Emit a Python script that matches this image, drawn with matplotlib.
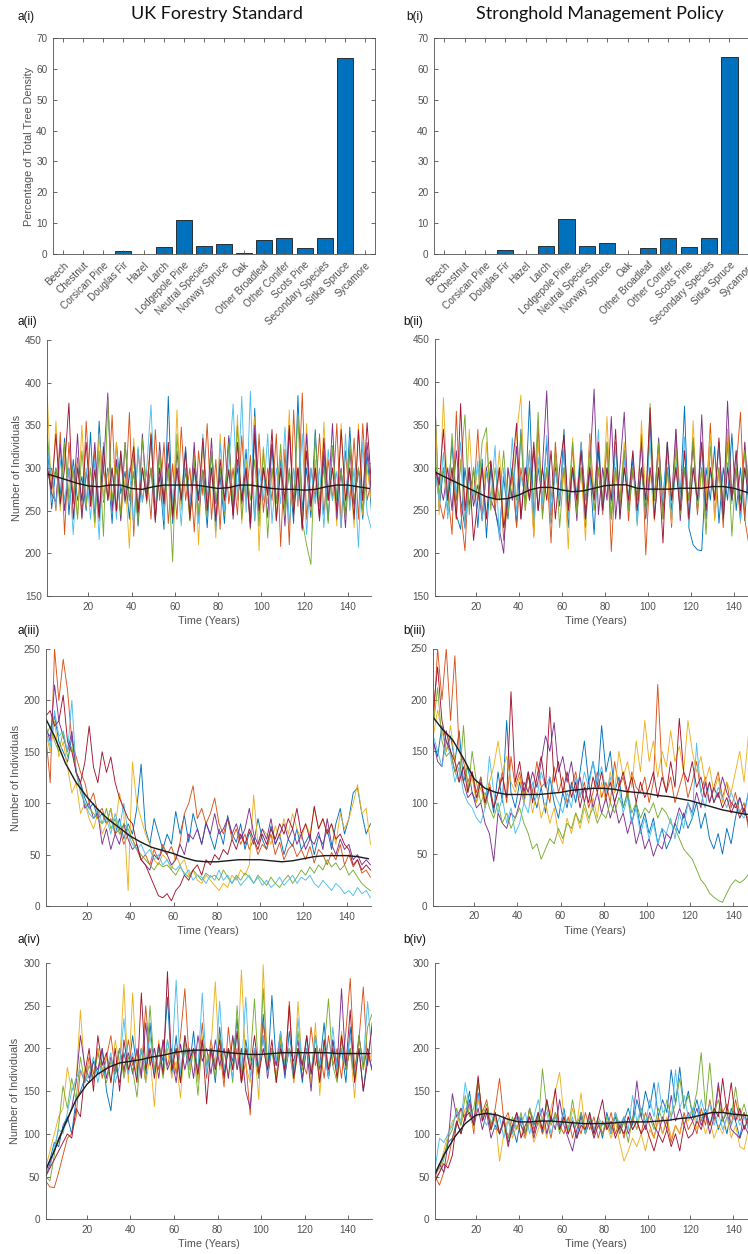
import matplotlib
matplotlib.use("Agg")
import matplotlib.pyplot as plt

plt.rcParams['font.family'] = ['Liberation Sans', 'DejaVu Sans']

# ---------------- data ----------------
species = ["Beech", "Chestnut", "Corsican Pine", "Douglas Fir", "Hazel", "Larch",
           "Lodgepole Pine", "Neutral Species", "Norway Spruce", "Oak",
           "Other Broadleaf", "Other Conifer", "Scots Pine", "Secondary Species",
           "Sitka Spruce", "Sycamore"]
ukfs_share = [0, 0, 0, 1.0, 0, 2.4, 11.0, 2.6, 3.3, 0.5, 4.5, 5.3, 1.9, 5.3, 63.5, 0]
shmp_share = [0, 0, 0, 1.5, 0, 2.8, 11.5, 2.6, 3.8, 0, 1.9, 5.3, 2.4, 5.3, 63.8, 0]

years = list(range(1, 152, 2))
mean_years = [1] + list(range(5, 151, 5))

# panel (ii)
a2_r1 = [330, 252, 300, 268, 335, 245, 310, 262, 290, 250,
         342, 238, 355, 260, 300, 235, 330, 270, 296, 240,
         318, 232, 300, 265, 338, 250, 290, 228, 384, 235,
         300, 262, 325, 245, 310, 268, 296, 230, 318, 258,
         290, 235, 335, 250, 300, 262, 322, 228, 370, 245,
         300, 270, 328, 240, 310, 255, 298, 235, 385, 250,
         300, 242, 345, 258, 310, 238, 326, 262, 298, 245,
         348, 255, 300, 240, 318, 250]
a2_r2 = [290, 300, 250, 342, 222, 330, 258, 312, 240, 355,
         262, 320, 238, 300, 265, 362, 248, 310, 260, 365,
         220, 322, 260, 298, 240, 345, 262, 330, 235, 305,
         240, 348, 262, 300, 225, 320, 268, 352, 240, 310,
         228, 336, 258, 300, 245, 338, 262, 315, 238, 340,
         248, 300, 262, 340, 208, 322, 210, 368, 255, 388,
         240, 300, 265, 340, 245, 310, 262, 352, 230, 320,
         258, 335, 240, 352, 262, 285]
a2_r3 = [385, 262, 355, 250, 320, 270, 300, 242, 350, 255,
         300, 230, 340, 262, 296, 252, 330, 240, 288, 206,
         335, 250, 300, 270, 342, 238, 312, 262, 298, 240,
         368, 250, 300, 238, 322, 210, 330, 262, 300, 218,
         340, 255, 298, 245, 362, 235, 310, 228, 360, 203,
         325, 258, 300, 240, 320, 262, 368, 245, 300, 226,
         352, 250, 310, 238, 354, 262, 300, 232, 352, 255,
         300, 230, 352, 245, 300, 262]
a2_r4 = [300, 270, 260, 328, 250, 300, 262, 340, 242, 295,
         268, 330, 250, 300, 388, 250, 310, 238, 330, 262,
         295, 240, 340, 268, 300, 236, 330, 262, 305, 240,
         320, 262, 296, 250, 330, 240, 298, 258, 335, 232,
         300, 262, 338, 240, 310, 258, 296, 230, 350, 262,
         300, 242, 328, 260, 298, 232, 345, 262, 300, 228,
         340, 255, 300, 238, 320, 262, 352, 240, 300, 230,
         322, 258, 300, 262, 330, 270]
a2_r5 = [340, 280, 300, 255, 330, 262, 298, 240, 320, 258,
         300, 236, 320, 220, 380, 262, 300, 245, 330, 262,
         296, 235, 335, 258, 300, 250, 320, 248, 300, 190,
         340, 258, 300, 238, 310, 250, 296, 242, 320, 262,
         300, 245, 330, 258, 350, 240, 300, 262, 310, 232,
         322, 218, 300, 258, 328, 245, 300, 255, 362, 238,
         210, 187, 338, 255, 300, 235, 325, 262, 298, 240,
         330, 262, 300, 250, 305, 305]
a2_r6 = [320, 290, 255, 310, 262, 300, 222, 305, 258, 300,
         240, 310, 216, 330, 262, 300, 240, 320, 258, 300,
         232, 325, 260, 300, 374, 250, 300, 238, 330, 262,
         298, 232, 320, 255, 300, 235, 340, 262, 300, 226,
         330, 250, 300, 375, 262, 384, 248, 390, 238, 300,
         262, 340, 235, 300, 258, 348, 232, 300, 262, 340,
         222, 300, 258, 300, 230, 322, 262, 296, 230, 340,
         250, 300, 207, 330, 248, 228]
a2_r7 = [300, 275, 340, 258, 300, 376, 240, 300, 262, 330,
         255, 298, 242, 325, 262, 300, 250, 320, 262, 290,
         325, 248, 300, 262, 340, 240, 300, 258, 330, 245,
         300, 262, 320, 240, 300, 262, 335, 250, 300, 238,
         310, 262, 298, 245, 330, 262, 300, 235, 340, 250,
         300, 268, 345, 238, 300, 262, 350, 245, 300, 230,
         320, 255, 300, 242, 335, 262, 300, 250, 345, 262,
         300, 240, 345, 262, 353, 280]
a2_mean = [293, 290, 286, 282, 279, 278, 280, 280, 276, 275, 278, 280, 280, 280, 280, 278,
           276, 277, 280, 280, 278, 276, 275, 275, 274, 275, 278, 280, 280, 278, 276]

b2_r1 = [385, 250, 300, 262, 330, 245, 228, 300, 255, 300,
         230, 310, 218, 300, 252, 222, 290, 240, 300, 232,
         345, 258, 378, 240, 300, 262, 330, 235, 310, 255,
         345, 230, 300, 262, 325, 248, 300, 222, 320, 258,
         300, 240, 330, 255, 300, 262, 310, 238, 300, 250,
         355, 240, 300, 262, 330, 250, 300, 262, 372, 230,
         210, 204, 203, 300, 262, 325, 235, 300, 262, 340,
         250, 300, 238, 320, 262, 300]
b2_r2 = [300, 262, 240, 272, 222, 366, 250, 203, 300, 262,
         345, 238, 300, 308, 250, 300, 215, 262, 290, 230,
         300, 262, 320, 220, 350, 245, 300, 212, 330, 262,
         300, 238, 326, 250, 300, 230, 340, 262, 296, 245,
         330, 202, 300, 250, 322, 238, 300, 262, 340, 198,
         300, 262, 320, 240, 298, 230, 345, 262, 300, 238,
         335, 245, 300, 262, 352, 240, 300, 230, 345, 262,
         300, 365, 240, 208, 300, 262]
b2_r3 = [385, 245, 382, 262, 300, 240, 310, 232, 345, 262,
         300, 240, 330, 258, 262, 320, 230, 300, 262, 340,
         385, 250, 300, 218, 330, 262, 300, 240, 310, 262,
         300, 205, 335, 262, 300, 215, 335, 250, 300, 262,
         360, 240, 300, 262, 330, 250, 300, 235, 355, 262,
         300, 238, 320, 262, 300, 235, 330, 262, 300, 232,
         355, 250, 300, 262, 340, 238, 300, 255, 345, 262,
         300, 235, 330, 262, 335, 260]
b2_r4 = [300, 285, 262, 300, 250, 320, 262, 230, 300, 255,
         280, 240, 300, 262, 250, 228, 200, 300, 262, 325,
         240, 300, 262, 320, 250, 300, 390, 245, 300, 262,
         320, 250, 300, 238, 330, 262, 300, 392, 245, 300,
         262, 360, 240, 300, 365, 250, 300, 262, 330, 240,
         300, 262, 335, 250, 300, 262, 345, 238, 300, 262,
         330, 250, 362, 240, 300, 262, 330, 245, 378, 262,
         300, 240, 330, 255, 300, 262]
b2_r5 = [320, 268, 300, 250, 340, 262, 300, 362, 245, 300,
         262, 330, 347, 250, 300, 262, 320, 245, 300, 262,
         340, 250, 300, 262, 365, 240, 300, 262, 320, 230,
         300, 262, 330, 245, 300, 262, 320, 250, 300, 262,
         330, 240, 300, 262, 320, 250, 300, 262, 300, 245,
         375, 262, 330, 240, 300, 262, 320, 245, 300, 262,
         335, 250, 300, 222, 325, 262, 300, 240, 330, 220,
         300, 262, 320, 245, 300, 262]
b2_r6 = [300, 262, 318, 240, 292, 270, 330, 228, 290, 265,
         308, 238, 296, 262, 326, 215, 300, 255, 335, 248,
         290, 268, 320, 236, 312, 258, 338, 246, 296, 262,
         322, 240, 300, 270, 330, 236, 292, 262, 345, 248,
         296, 258, 328, 240, 310, 266, 318, 232, 300, 260,
         332, 244, 296, 262, 320, 240, 306, 258, 336, 230,
         300, 258, 322, 246, 296, 262, 330, 240, 306, 258,
         320, 238, 300, 262, 296, 250]
b2_r7 = [300, 280, 345, 262, 300, 240, 375, 250, 300, 215,
         262, 300, 240, 308, 262, 300, 230, 262, 300, 352,
         240, 300, 262, 330, 250, 300, 262, 320, 240, 300,
         338, 250, 300, 262, 320, 240, 300, 262, 330, 250,
         300, 262, 345, 240, 300, 262, 320, 250, 300, 262,
         370, 240, 300, 212, 330, 262, 300, 250, 320, 240,
         300, 262, 330, 250, 300, 262, 335, 240, 300, 262,
         320, 250, 300, 262, 310, 262]
b2_mean = [295, 290, 284, 278, 272, 266, 263, 264, 268, 274, 277, 277, 274, 272, 273, 276,
           279, 280, 280, 276, 275, 275, 275, 276, 276, 276, 278, 278, 276, 272, 268]

# panel (iii)
a3_r1 = [170, 165, 185, 160, 150, 140, 165, 130, 120, 105,
         95, 100, 85, 90, 80, 95, 70, 85, 65, 80,
         70, 95, 138, 75, 60, 85, 70, 55, 70, 60,
         92, 70, 88, 62, 90, 75, 60, 82, 68, 55,
         75, 60, 88, 70, 62, 80, 55, 72, 60, 85,
         65, 55, 78, 60, 70, 50, 65, 58, 75, 55,
         62, 70, 50, 68, 60, 75, 55, 80, 95, 70,
         85, 110, 115, 90, 70, 80]
a3_r2 = [165, 120, 250, 200, 240, 210, 160, 145, 130, 120,
         100, 110, 90, 95, 80, 85, 70, 75, 60, 70,
         65, 55, 45, 50, 40, 55, 45, 60, 50, 58,
         45, 62, 90, 100, 117, 85, 95, 80, 90, 105,
         80, 70, 85, 65, 75, 60, 70, 55, 65, 50,
         60, 55, 70, 50, 62, 45, 55, 60, 48, 55,
         45, 58, 42, 55, 50, 40, 52, 45, 60, 40,
         50, 38, 45, 32, 35, 28]
a3_r3 = [168, 150, 180, 145, 160, 135, 110, 120, 90, 100,
         85, 75, 90, 70, 80, 95, 75, 110, 90, 15,
         140, 100, 85, 70, 60, 45, 40, 50, 45, 35,
         50, 40, 45, 30, 35, 25, 22, 30, 25, 20,
         15, 22, 18, 30, 25, 35, 30, 40, 108, 60,
         75, 70, 60, 78, 65, 85, 70, 90, 75, 65,
         80, 70, 95, 75, 85, 70, 80, 60, 90, 75,
         85, 100, 118, 90, 95, 60]
a3_r4 = [175, 160, 215, 180, 165, 150, 170, 130, 120, 95,
         100, 85, 90, 60, 75, 55, 70, 60, 80, 65,
         55, 60, 45, 40, 35, 50, 45, 55, 50, 40,
         45, 60, 50, 70, 65, 75, 60, 80, 70, 90,
         70, 75, 85, 70, 80, 65, 75, 95, 70, 60,
         75, 65, 85, 60, 70, 80, 65, 75, 60, 70,
         55, 65, 60, 72, 55, 85, 60, 50, 65, 55,
         60, 45, 50, 40, 45, 40]
a3_r5 = [165, 175, 160, 150, 170, 145, 155, 130, 110, 100,
         95, 90, 85, 80, 95, 75, 85, 70, 80, 75,
         65, 55, 50, 45, 40, 35, 42, 38, 40, 35,
         30, 38, 32, 28, 35, 30, 25, 32, 28, 30,
         25, 35, 28, 22, 30, 25, 32, 28, 22, 30,
         25, 20, 28, 22, 18, 25, 30, 22, 28, 35,
         30, 38, 32, 40, 35, 45, 38, 42, 35, 40,
         30, 35, 28, 22, 18, 15]
a3_r6 = [170, 155, 190, 165, 170, 150, 200, 130, 115, 100,
         90, 85, 95, 80, 85, 70, 90, 75, 100, 70,
         60, 55, 60, 50, 55, 45, 50, 40, 45, 38,
         35, 40, 30, 35, 25, 30, 28, 22, 30, 25,
         35, 25, 30, 22, 28, 20, 25, 30, 22, 28,
         20, 25, 18, 22, 28, 20, 25, 30, 22, 28,
         25, 30, 22, 18, 25, 20, 15, 22, 18, 12,
         15, 10, 18, 12, 15, 8]
a3_r7 = [185, 190, 175, 180, 205, 160, 150, 130, 120, 140,
         175, 135, 120, 150, 130, 145, 120, 105, 95, 85,
         80, 60, 45, 40, 30, 20, 10, 8, 12, 5,
         15, 20, 30, 25, 35, 40, 30, 45, 40, 50,
         45, 55, 50, 65, 55, 70, 60, 75, 65, 55,
         70, 60, 75, 65, 80, 70, 85, 75, 95, 70,
         80, 65, 97, 75, 85, 70, 80, 65, 70, 60,
         55, 40, 45, 35, 40, 35]
a3_mean = [182, 165, 139, 120, 106, 94, 84, 76, 68, 62, 57, 54, 51, 47, 44, 43,
           43, 44, 45, 45, 45, 44, 43, 44, 46, 48, 49, 49, 49, 48, 46]

b3_r1 = [160, 145, 175, 150, 165, 140, 170, 120, 135, 110,
         100, 125, 95, 115, 90, 130, 100, 180, 110, 95,
         120, 100, 130, 110, 95, 115, 90, 125, 100, 85,
         110, 95, 120, 100, 130, 160, 120, 140, 115, 175,
         130, 150, 110, 125, 95, 110, 80, 100, 75, 90,
         70, 85, 60, 75, 55, 65, 80, 70, 90, 75,
         85, 100, 75, 90, 65, 55, 70, 50, 75, 60,
         85, 105, 90, 110, 95, 80]
b3_r2 = [175, 250, 200, 250, 180, 243, 150, 140, 120, 130,
         110, 125, 100, 120, 95, 110, 130, 100, 145, 115,
         130, 105, 125, 110, 140, 115, 120, 100, 135, 110,
         125, 100, 115, 130, 105, 120, 95, 110, 130, 105,
         120, 100, 140, 115, 125, 105, 130, 115, 110, 125,
         100, 120, 215, 130, 110, 125, 100, 115, 130, 105,
         120, 140, 110, 125, 100, 115, 130, 105, 120, 95,
         110, 90, 100, 75, 48, 70]
b3_r3 = [165, 190, 170, 150, 175, 140, 130, 120, 110, 125,
         100, 115, 95, 120, 135, 160, 130, 145, 120, 110,
         125, 100, 115, 90, 110, 85, 100, 80, 95, 70,
         60, 85, 70, 90, 75, 95, 80, 105, 85, 120,
         100, 130, 110, 150, 125, 140, 115, 160, 130, 180,
         140, 160, 125, 150, 135, 170, 140, 155, 130, 180,
         150, 130, 145, 120, 135, 110, 125, 100, 120, 110,
         130, 150, 120, 165, 130, 125]
b3_r4 = [160, 140, 135, 170, 150, 130, 140, 120, 105, 110,
         95, 100, 80, 70, 43, 90, 80, 75, 90, 85,
         100, 120, 110, 130, 115, 140, 165, 150, 178, 130,
         145, 120, 140, 110, 125, 100, 120, 95, 110, 90,
         105, 85, 100, 80, 90, 70, 85, 60, 75, 55,
         65, 48, 60, 55, 70, 65, 80, 95, 85, 100,
         90, 110, 95, 120, 100, 115, 105, 125, 110, 100,
         95, 105, 90, 85, 80, 75]
b3_r5 = [175, 212, 160, 145, 150, 130, 120, 175, 110, 150,
         120, 100, 110, 95, 85, 100, 80, 90, 75, 85,
         95, 80, 70, 55, 60, 45, 55, 65, 60, 75,
         65, 80, 75, 90, 80, 100, 85, 95, 80, 90,
         85, 100, 90, 105, 95, 110, 90, 100, 85, 95,
         90, 100, 85, 95, 90, 80, 75, 65, 55, 50,
         45, 35, 25, 20, 12, 8, 5, 3, 12, 20,
         25, 22, 25, 30, 38, 40]
b3_r6 = [165, 150, 135, 160, 145, 120, 135, 110, 100, 95,
         85, 80, 95, 145, 110, 90, 105, 80, 95, 70,
         80, 100, 90, 120, 105, 130, 115, 125, 110, 100,
         90, 110, 95, 125, 105, 130, 115, 140, 120, 135,
         110, 125, 100, 115, 90, 105, 80, 95, 70, 85,
         65, 80, 60, 75, 70, 85, 65, 90, 75, 100,
         85, 158, 110, 95, 120, 100, 115, 105, 95, 110,
         100, 90, 85, 110, 95, 85]
b3_r7 = [190, 232, 180, 160, 150, 140, 120, 135, 110, 130,
         105, 120, 100, 115, 95, 110, 125, 105, 208, 120,
         140, 110, 130, 100, 125, 145, 115, 193, 120, 140,
         110, 130, 105, 120, 95, 115, 100, 125, 110, 130,
         105, 120, 100, 115, 130, 110, 125, 100, 120, 105,
         115, 130, 105, 125, 110, 140, 115, 182, 130, 120,
         140, 115, 125, 105, 120, 100, 110, 95, 105, 90,
         100, 85, 95, 80, 75, 80]
b3_mean = [183, 172, 161, 143, 123, 114, 110, 108, 108, 108, 108, 109, 110, 112, 113, 114,
           114, 113, 111, 110, 109, 107, 106, 104, 102, 99, 96, 93, 91, 89, 88]

# panel (iv)
a4_r1 = [55, 70, 90, 85, 110, 120, 100, 140, 150, 165,
         160, 185, 170, 200, 150, 127, 180, 160, 195, 170,
         215, 175, 200, 160, 230, 170, 205, 185, 260, 170,
         215, 160, 200, 175, 220, 165, 210, 180, 200, 160,
         225, 170, 200, 185, 235, 160, 210, 175, 195, 165,
         240, 170, 262, 180, 205, 165, 220, 175, 200, 160,
         215, 170, 200, 180, 230, 165, 210, 175, 200, 160,
         225, 170, 200, 150, 195, 175]
a4_r2 = [45, 38, 37, 55, 75, 95, 100, 120, 175, 160,
         190, 170, 200, 165, 190, 215, 175, 200, 170, 210,
         180, 195, 170, 250, 185, 200, 175, 210, 180, 200,
         170, 215, 270, 185, 200, 175, 230, 165, 210, 180,
         200, 155, 225, 175, 200, 160, 185, 122, 200, 175,
         230, 180, 200, 165, 215, 175, 255, 160, 200, 185,
         170, 225, 180, 200, 165, 215, 180, 200, 165, 220,
         282, 175, 210, 272, 180, 230]
a4_r3 = [60, 80, 100, 120, 130, 178, 150, 160, 245, 170,
         185, 160, 200, 175, 190, 160, 210, 180, 275, 160,
         265, 170, 200, 160, 190, 132, 210, 170, 200, 165,
         185, 142, 210, 175, 200, 160, 215, 185, 200, 278,
         175, 200, 165, 215, 175, 292, 180, 160, 200, 140,
         298, 175, 200, 165, 210, 180, 200, 160, 255, 175,
         200, 160, 230, 145, 210, 180, 200, 165, 220, 175,
         200, 142, 215, 175, 200, 185]
a4_r4 = [50, 65, 80, 95, 105, 115, 130, 160, 215, 180,
         165, 185, 175, 200, 165, 190, 170, 200, 175, 195,
         170, 200, 165, 230, 180, 200, 165, 210, 175, 190,
         160, 205, 175, 200, 165, 215, 185, 200, 170, 210,
         180, 200, 165, 215, 175, 200, 150, 130, 200, 175,
         215, 165, 200, 180, 220, 170, 200, 185, 210, 165,
         200, 150, 215, 175, 200, 165, 210, 180, 270, 175,
         200, 165, 215, 180, 200, 175]
a4_r5 = [50, 45, 75, 110, 156, 130, 165, 140, 190, 160,
         180, 165, 195, 175, 160, 185, 170, 200, 165, 190,
         175, 143, 200, 170, 250, 175, 200, 165, 210, 180,
         200, 170, 215, 165, 200, 145, 210, 180, 200, 165,
         215, 175, 200, 160, 250, 170, 200, 185, 258, 165,
         270, 175, 200, 160, 215, 180, 200, 165, 220, 175,
         200, 170, 215, 165, 200, 258, 180, 160, 210, 175,
         200, 165, 215, 175, 225, 240]
a4_r6 = [55, 60, 85, 105, 100, 125, 150, 165, 175, 160,
         170, 190, 160, 185, 175, 195, 160, 180, 235, 170,
         195, 165, 200, 180, 215, 170, 200, 175, 210, 185,
         280, 170, 210, 180, 200, 175, 265, 170, 200, 180,
         255, 175, 200, 165, 220, 175, 260, 165, 200, 180,
         215, 170, 200, 185, 220, 175, 200, 165, 235, 180,
         200, 170, 215, 180, 200, 165, 225, 175, 200, 180,
         215, 170, 200, 185, 255, 190]
a4_r7 = [50, 60, 70, 80, 90, 100, 95, 130, 120, 170,
         200, 150, 215, 180, 195, 160, 200, 150, 210, 175,
         190, 160, 265, 175, 200, 165, 205, 170, 290, 175,
         200, 160, 215, 185, 200, 170, 210, 135, 200, 175,
         210, 165, 200, 175, 220, 160, 200, 175, 215, 170,
         200, 175, 210, 160, 200, 175, 250, 165, 200, 180,
         215, 170, 200, 160, 210, 175, 200, 165, 215, 180,
         245, 160, 200, 150, 185, 225]
a4_mean = [58, 80, 112, 140, 158, 170, 178, 183, 185, 187, 190, 192, 195, 197, 198, 198,
           197, 195, 194, 193, 193, 194, 195, 195, 195, 195, 195, 194, 194, 194, 194]

b4_r1 = [55, 60, 75, 90, 95, 115, 100, 120, 150, 110,
         148, 115, 130, 105, 120, 100, 115, 95, 110, 90,
         120, 100, 130, 110, 125, 100, 140, 115, 120, 105,
         130, 100, 115, 95, 125, 105, 120, 100, 115, 95,
         125, 105, 120, 100, 115, 130, 110, 140, 120, 150,
         130, 160, 120, 140, 125, 175, 135, 178, 130, 150,
         120, 140, 115, 130, 110, 125, 105, 120, 100, 130,
         115, 95, 125, 110, 130, 120]
b4_r2 = [50, 40, 55, 70, 95, 110, 130, 120, 135, 100,
         160, 125, 140, 110, 130, 165, 115, 125, 100, 120,
         110, 95, 130, 105, 120, 100, 115, 95, 125, 110,
         100, 120, 95, 115, 100, 125, 105, 120, 95, 115,
         105, 125, 100, 115, 95, 120, 105, 115, 100, 125,
         110, 95, 120, 100, 115, 90, 110, 100, 125, 105,
         115, 100, 130, 110, 140, 115, 155, 125, 135, 110,
         140, 115, 125, 105, 110, 115]
b4_r3 = [52, 60, 80, 100, 115, 120, 110, 130, 125, 105,
         140, 115, 130, 105, 120, 68, 100, 120, 95, 110,
         100, 95, 115, 90, 105, 120, 95, 130, 150, 172,
         120, 100, 130, 110, 148, 100, 115, 95, 120, 100,
         110, 95, 115, 90, 68, 80, 95, 85, 100, 80,
         105, 95, 115, 100, 120, 95, 110, 100, 120, 115,
         130, 105, 120, 100, 115, 95, 110, 100, 120, 95,
         110, 85, 82, 105, 120, 125]
b4_r4 = [50, 65, 55, 90, 147, 120, 130, 115, 140, 110,
         130, 105, 125, 95, 110, 100, 120, 90, 105, 125,
         110, 100, 120, 95, 115, 130, 100, 120, 105, 140,
         110, 95, 80, 105, 120, 100, 115, 95, 110, 100,
         115, 100, 125, 105, 120, 100, 115, 162, 120, 105,
         125, 110, 100, 120, 105, 145, 115, 130, 110, 125,
         115, 130, 110, 125, 100, 120, 160, 115, 125, 105,
         100, 95, 110, 100, 120, 115]
b4_r5 = [48, 55, 70, 95, 105, 130, 110, 145, 120, 130,
         165, 120, 135, 110, 125, 100, 115, 95, 120, 105,
         125, 100, 130, 115, 110, 176, 130, 110, 125, 100,
         120, 105, 140, 110, 125, 100, 120, 105, 115, 100,
         120, 105, 125, 100, 115, 90, 120, 105, 130, 115,
         120, 105, 130, 115, 140, 120, 135, 165, 130, 145,
         125, 150, 195, 130, 183, 125, 140, 115, 130, 120,
         155, 120, 135, 115, 125, 150]
b4_r6 = [60, 95, 90, 100, 110, 125, 115, 160, 130, 110,
         145, 120, 110, 125, 105, 120, 95, 115, 100, 120,
         110, 125, 100, 120, 140, 115, 125, 100, 120, 110,
         125, 105, 120, 95, 115, 100, 125, 105, 120, 110,
         115, 100, 125, 110, 120, 105, 145, 115, 130, 110,
         140, 120, 160, 125, 130, 115, 175, 130, 145, 120,
         130, 115, 140, 120, 135, 110, 125, 105, 120, 110,
         125, 110, 120, 105, 115, 120]
b4_r7 = [45, 55, 65, 60, 75, 115, 100, 120, 125, 110,
         168, 115, 130, 105, 125, 100, 115, 85, 110, 125,
         95, 110, 120, 100, 125, 105, 140, 115, 153, 105,
         120, 100, 115, 95, 110, 105, 125, 100, 120, 140,
         105, 115, 95, 110, 100, 120, 105, 115, 100, 110,
         95, 80, 100, 90, 105, 85, 100, 80, 110, 95,
         100, 115, 105, 125, 110, 130, 120, 165, 125, 160,
         115, 130, 105, 120, 110, 125]
b4_mean = [54, 75, 96, 112, 122, 124, 122, 117, 114, 114, 115, 115, 114, 113, 112, 112,
           112, 113, 114, 114, 114, 115, 116, 118, 119, 122, 125, 125, 123, 122, 120]

# ---------------- styling ----------------
run_colors = ["#0072BD", "#D95319", "#EDB120", "#7E2F8E", "#77AC30", "#4DBEEE", "#A2142F"]
bar_color = "#0072BD"
axis_gray = "#505050"
tick_fs = 7.2
label_fs = 7.8

W, H = 748, 1254
fig = plt.figure(figsize=(W / 100, H / 100), dpi=100)


def add_box(x0, y0, x1, y1):
    """Axes placed by pixel box (left, top, right, bottom)."""
    return fig.add_axes([x0 / W, 1 - y1 / H, (x1 - x0) / W, (y1 - y0) / H])


def style(ax, box):
    for side in ("left", "bottom", "top", "right"):
        ax.spines[side].set_color(axis_gray)
        ax.spines[side].set_linewidth(0.6)
        if not box and side in ("top", "right"):
            ax.spines[side].set_visible(False)
    ax.tick_params(direction="in", length=3, width=0.6, colors=axis_gray,
                   labelsize=tick_fs, top=box, right=box, pad=4)


def bar_panel(box, values, ylabel):
    ax = add_box(*box)
    pos = list(range(1, len(species) + 1))
    ax.bar(pos, values, width=0.8, color=bar_color, edgecolor="#1a1a1a", linewidth=0.6)
    ax.set_xlim(0.5, len(species) + 0.5)
    ax.set_ylim(0, 70)
    ax.set_yticks(range(0, 71, 10))
    ax.set_xticks(pos)
    ax.set_xticklabels(species, rotation=45, ha="right", rotation_mode="anchor")
    style(ax, True)
    if ylabel:
        ax.set_ylabel(ylabel, fontsize=label_fs, color=axis_gray)
        ax.yaxis.set_label_coords(-0.058, 0.5)
    return ax


def series_panel(box, runs, mean, ylim, yticks, ylabel):
    ax = add_box(*box)
    for run, col in zip(runs, run_colors):
        ax.plot(years[:len(run)], run, color=col, lw=0.65)
    ax.plot(mean_years[:len(mean)], mean, color="#1a1a1a", lw=1.0)
    ax.set_xlim(1, 151)
    ax.set_ylim(*ylim)
    ax.set_xticks(range(20, 141, 20))
    ax.set_yticks(yticks)
    style(ax, False)
    ax.set_xlabel("Time (Years)", fontsize=label_fs, color=axis_gray)
    ax.xaxis.set_label_coords(0.5, -0.078)
    if ylabel:
        ax.set_ylabel(ylabel, fontsize=label_fs, color=axis_gray)
        ax.yaxis.set_label_coords(-0.077, 0.5)
    return ax


bar_panel((53, 37.7, 375, 254.3), ukfs_share, "Percentage of Total Tree Density")
bar_panel((434, 37.7, 760, 254.3), shmp_share, None)

series_panel((47.3, 340, 371.4, 596),
             [a2_r1, a2_r2, a2_r3, a2_r4, a2_r5, a2_r6, a2_r7], a2_mean,
             (150, 450), range(150, 451, 50), "Number of Individuals")
series_panel((434.8, 339.5, 757.7, 596),
             [b2_r1, b2_r2, b2_r3, b2_r4, b2_r5, b2_r6, b2_r7], b2_mean,
             (150, 450), range(150, 451, 50), None)
series_panel((45.9, 649, 370.5, 906),
             [a3_r1, a3_r2, a3_r3, a3_r4, a3_r5, a3_r6, a3_r7], a3_mean,
             (0, 250), range(0, 251, 50), "Number of Individuals")
series_panel((433.3, 648.5, 757, 905.5),
             [b3_r1, b3_r2, b3_r3, b3_r4, b3_r5, b3_r6, b3_r7], b3_mean,
             (0, 250), range(0, 251, 50), None)
series_panel((45.6, 963, 372, 1219.3),
             [a4_r1, a4_r2, a4_r3, a4_r4, a4_r5, a4_r6, a4_r7], a4_mean,
             (0, 300), range(0, 301, 50), "Number of Individuals")
series_panel((435.2, 963, 757, 1219.3),
             [b4_r1, b4_r2, b4_r3, b4_r4, b4_r5, b4_r6, b4_r7], b4_mean,
             (0, 300), range(0, 301, 50), None)

# titles and panel letters
fig.text(217 / W, 1 - 14 / H, "UK Forestry Standard", ha="center", va="center",
         fontsize=13, family=["Lato", "DejaVu Sans"], color="#111111")
fig.text(600 / W, 1 - 14 / H, "Stronghold Management Policy", ha="center", va="center",
         fontsize=13, family=["Lato", "DejaVu Sans"], color="#111111")

panel_tags = [("a(i)", 18, 17), ("b(i)", 406, 17), ("a(ii)", 18, 322), ("b(ii)", 403, 322),
              ("a(iii)", 18, 631), ("b(iii)", 403, 631), ("a(iv)", 18, 940), ("b(iv)", 403, 940)]
for tag, px, py in panel_tags:
    fig.text(px / W, 1 - py / H, tag, ha="left", va="center", fontsize=8.5, color="#111111")

fig.savefig("out.png", dpi=100)
